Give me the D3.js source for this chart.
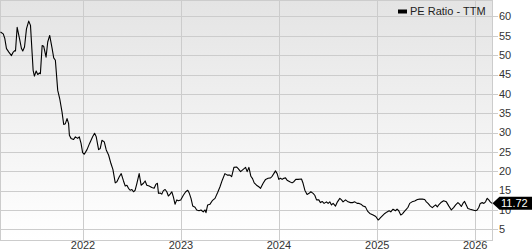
<!DOCTYPE html>
<html>
<head>
<meta charset="utf-8">
<script src="https://cdn.jsdelivr.net/npm/d3@7"></script>
<style>
  body { margin: 0; background: #fff; }
  svg { display: block; font-family: "Liberation Sans", Arial, sans-serif; }
  .grid line { stroke: #cccccc; stroke-width: 1; shape-rendering: crispEdges; }
  .tick-lbl { font-size: 11px; fill: #333; }
</style>
</head>
<body>
<svg class="chart" width="532" height="250"></svg>
<script>
// decimal years and PE ratio values
var dates = [
  2021.158, 2021.186, 2021.202, 2021.219, 2021.243, 2021.270, 2021.288, 2021.304, 2021.311, 2021.328,
  2021.352, 2021.372, 2021.385, 2021.403, 2021.423, 2021.446, 2021.464, 2021.481, 2021.491, 2021.504,
  2021.522, 2021.538, 2021.555, 2021.565, 2021.583, 2021.599, 2021.623, 2021.640, 2021.660, 2021.685,
  2021.701, 2021.718, 2021.742, 2021.762, 2021.786, 2021.803, 2021.820, 2021.837, 2021.853, 2021.861,
  2021.878, 2021.904, 2021.922, 2021.945, 2021.962, 2021.980, 2021.996, 2022.013, 2022.041, 2022.067,
  2022.098, 2022.118, 2022.135, 2022.159, 2022.176, 2022.193, 2022.217, 2022.237, 2022.261, 2022.285,
  2022.305, 2022.329, 2022.346, 2022.370, 2022.390, 2022.413, 2022.431, 2022.448, 2022.464, 2022.481,
  2022.499, 2022.515, 2022.532, 2022.550, 2022.573, 2022.593, 2022.617, 2022.634, 2022.651, 2022.675,
  2022.702, 2022.726, 2022.743, 2022.759, 2022.770, 2022.787, 2022.804, 2022.820, 2022.838, 2022.855,
  2022.871, 2022.889, 2022.906, 2022.922, 2022.939, 2022.957, 2022.973, 2022.997, 2023.024, 2023.048,
  2023.069, 2023.085, 2023.102, 2023.120, 2023.143, 2023.160, 2023.184, 2023.204, 2023.227, 2023.245,
  2023.255, 2023.272, 2023.296, 2023.319, 2023.347, 2023.374, 2023.398, 2023.421, 2023.448, 2023.472,
  2023.499, 2023.517, 2023.540, 2023.567, 2023.584, 2023.608, 2023.635, 2023.659, 2023.675, 2023.693,
  2023.713, 2023.730, 2023.747, 2023.771, 2023.794, 2023.812, 2023.838, 2023.863, 2023.889, 2023.914,
  2023.930, 2023.947, 2023.964, 2023.981, 2023.998, 2024.015, 2024.032, 2024.049, 2024.066, 2024.082,
  2024.110, 2024.133, 2024.151, 2024.171, 2024.194, 2024.229, 2024.245, 2024.263, 2024.286, 2024.306,
  2024.324, 2024.347, 2024.364, 2024.382, 2024.405, 2024.422, 2024.439, 2024.459, 2024.483, 2024.500,
  2024.517, 2024.534, 2024.551, 2024.575, 2024.595, 2024.619, 2024.636, 2024.652, 2024.677, 2024.703,
  2024.728, 2024.748, 2024.772, 2024.795, 2024.815, 2024.840, 2024.856, 2024.880, 2024.901, 2024.924,
  2024.958, 2024.985, 2025.009, 2025.026, 2025.049, 2025.077, 2025.100, 2025.121, 2025.138, 2025.161,
  2025.186, 2025.202, 2025.219, 2025.240, 2025.257, 2025.273, 2025.298, 2025.314, 2025.331, 2025.355,
  2025.382, 2025.410, 2025.433, 2025.461, 2025.484, 2025.501, 2025.518, 2025.542, 2025.562, 2025.579,
  2025.596, 2025.613, 2025.630, 2025.654, 2025.677, 2025.705, 2025.731, 2025.756, 2025.779, 2025.800,
  2025.823, 2025.840, 2025.858, 2025.874, 2025.891, 2025.908, 2025.925, 2025.949, 2025.976, 2026.003,
  2026.020, 2026.037, 2026.051, 2026.071, 2026.088, 2026.105, 2026.122, 2026.138, 2026.153, 2026.171
];
var peRatio = [
  56.0, 55.5, 54.3, 51.7, 50.8, 49.9, 50.8, 51.2, 51.1, 57.2,
  54.3, 51.7, 51.1, 52.1, 56.8, 58.8, 57.7, 50.4, 46.1, 44.6,
  45.9, 45.0, 45.4, 45.2, 52.5, 52.3, 49.5, 53.4, 55.1, 51.7,
  49.3, 48.7, 40.9, 38.8, 35.3, 32.1, 32.3, 33.6, 32.3, 29.3,
  28.5, 28.2, 28.9, 28.5, 28.9, 27.2, 24.8, 24.4, 25.6, 27.2,
  28.9, 29.8, 28.9, 25.6, 25.9, 28.0, 27.6, 25.5, 24.2, 22.0,
  20.5, 17.0, 17.3, 18.6, 19.4, 17.5, 16.2, 16.4, 15.6, 15.1,
  15.3, 14.7, 15.1, 16.9, 19.4, 16.4, 16.9, 17.5, 16.4, 16.2,
  15.8, 15.6, 16.6, 16.9, 14.3, 14.4, 14.1, 15.0, 15.3, 14.7,
  13.6, 14.1, 14.7, 13.4, 11.5, 12.6, 12.4, 12.6, 13.8, 14.7,
  15.1, 14.3, 13.0, 11.0, 10.7, 10.0, 9.8, 10.0, 9.5, 10.0,
  9.3, 11.3, 11.5, 12.4, 13.0, 14.5, 16.0, 17.7, 19.4, 19.0,
  19.0, 18.6, 21.0, 21.1, 20.7, 19.9, 20.5, 21.0, 19.9, 21.0,
  18.7, 18.1, 17.0, 16.4, 16.0, 15.6, 16.9, 17.9, 18.2, 18.3,
  18.7, 19.4, 20.1, 19.4, 17.9, 18.2, 17.9, 18.2, 18.3, 17.7,
  17.3, 17.0, 17.3, 17.9, 17.9, 18.0, 16.9, 15.1, 14.0, 14.3,
  14.7, 14.3, 13.8, 12.6, 12.6, 11.9, 12.2, 11.7, 12.1, 11.7,
  12.1, 11.3, 11.7, 11.0, 12.1, 13.0, 12.6, 12.1, 12.6, 12.1,
  11.9, 11.9, 12.1, 11.7, 11.7, 11.4, 11.0, 10.8, 9.7, 9.1,
  8.7, 8.3, 7.4, 7.8, 8.4, 9.1, 9.5, 9.8, 9.5, 10.2,
  9.8, 10.2, 9.8, 8.7, 9.0, 9.5, 10.2, 10.7, 11.7, 12.1,
  12.3, 12.7, 12.8, 12.8, 12.7, 12.1, 11.7, 11.0, 10.6, 11.0,
  11.3, 10.8, 11.4, 12.0, 12.4, 12.1, 11.0, 10.0, 10.6, 11.3,
  11.9, 11.5, 10.9, 11.7, 12.2, 11.3, 10.4, 10.2, 10.0, 9.8,
  10.0, 10.7, 11.7, 11.9, 11.7, 12.1, 13.0, 12.6, 12.1, 11.72
];
var yTicks = [5, 10, 15, 20, 25, 30, 35, 40, 45, 50, 55, 60];
var xTicks = [2022, 2023, 2024, 2025, 2026];
var seriesName = "PE Ratio - TTM";
var lastLabel = "11.72";

(function() {
  var svg = d3.select(".chart");

  var plot = {left: 0.5, right: 492.5, top: 0.5, bottom: 240};

  function yearToDate(y) {
    var yr = Math.floor(y);
    var start = new Date(yr, 0, 1), end = new Date(yr + 1, 0, 1);
    return new Date(+start + (y - yr) * (end - start));
  }

  var data = dates.map(function(d, i) {
    return {date: yearToDate(d), value: peRatio[i]};
  });

  var xScale = d3.scaleTime()
    .domain([yearToDate(2021.158), yearToDate(2026.176)])
    .range([plot.left, plot.right]);

  var yScale = d3.scaleLinear()
    .domain([2.24, 64.13])
    .range([plot.bottom, plot.top]);

  // background gradient
  var grad = svg.append("defs").append("linearGradient")
    .attr("id", "bg")
    .attr("x1", 0).attr("y1", 0).attr("x2", 0).attr("y2", 1);
  grad.append("stop").attr("offset", "0%").attr("stop-color", "#e4e4e4");
  grad.append("stop").attr("offset", "100%").attr("stop-color", "#ffffff");

  svg.append("rect")
    .attr("x", plot.left).attr("y", plot.top)
    .attr("width", plot.right - plot.left)
    .attr("height", plot.bottom - plot.top)
    .attr("fill", "url(#bg)");

  // horizontal grid + right ticks
  var grid = svg.append("g").attr("class", "grid");
  grid.selectAll(".hg")
    .data(yTicks)
    .enter().append("line")
    .attr("x1", plot.left).attr("x2", plot.right + 5)
    .attr("y1", function(d) { return Math.round(yScale(d)) + 0.5; })
    .attr("y2", function(d) { return Math.round(yScale(d)) + 0.5; });

  // vertical grid at years
  grid.selectAll(".vg")
    .data(xTicks)
    .enter().append("line")
    .attr("x1", function(d) { return Math.round(xScale(yearToDate(d))) + 0.5; })
    .attr("x2", function(d) { return Math.round(xScale(yearToDate(d))) + 0.5; })
    .attr("y1", plot.top).attr("y2", plot.bottom);

  // frame
  svg.append("rect")
    .attr("x", plot.left).attr("y", plot.top)
    .attr("width", plot.right - plot.left)
    .attr("height", plot.bottom - plot.top)
    .attr("fill", "none")
    .attr("stroke", "#cccccc")
    .attr("shape-rendering", "crispEdges");

  // y labels on right
  svg.selectAll(".ylbl")
    .data(yTicks)
    .enter().append("text")
    .attr("class", "tick-lbl")
    .attr("x", 499)
    .attr("y", function(d) { return yScale(d); })
    .attr("dy", "0.35em")
    .text(function(d) { return d; });

  // x labels
  svg.selectAll(".xlbl")
    .data(xTicks)
    .enter().append("text")
    .attr("class", "tick-lbl")
    .attr("x", function(d) { return xScale(yearToDate(d)); })
    .attr("y", 249)
    .attr("text-anchor", "middle")
    .text(function(d) { return d; });

  // the line
  var line = d3.line()
    .x(function(d) { return xScale(d.date); })
    .y(function(d) { return yScale(d.value); });

  svg.append("path")
    .datum(data)
    .attr("d", line)
    .attr("fill", "none")
    .attr("stroke", "#000")
    .attr("stroke-width", 1.1)
    .attr("stroke-linejoin", "round");

  // last value marker
  var last = data[data.length - 1];
  var ly = yScale(last.value), lx = plot.right;
  svg.append("path")
    .attr("d", "M" + lx + "," + ly +
      "L" + (lx + 7) + "," + (ly - 6.5) +
      "L532," + (ly - 6.5) +
      "L532," + (ly + 6.5) +
      "L" + (lx + 7) + "," + (ly + 6.5) + "Z")
    .attr("fill", "#000");
  svg.append("text")
    .attr("x", 501)
    .attr("y", ly)
    .attr("dy", "0.36em")
    .attr("fill", "#fff")
    .style("font-size", "11px")
    .text(lastLabel);

  // legend
  svg.append("rect")
    .attr("x", 398).attr("y", 9.5)
    .attr("width", 9).attr("height", 4)
    .attr("fill", "#000");
  svg.append("text")
    .attr("x", 410)
    .attr("y", 15)
    .attr("fill", "#222")
    .style("font-size", "11px")
    .text(seriesName);
})();
</script>
</body>
</html>
